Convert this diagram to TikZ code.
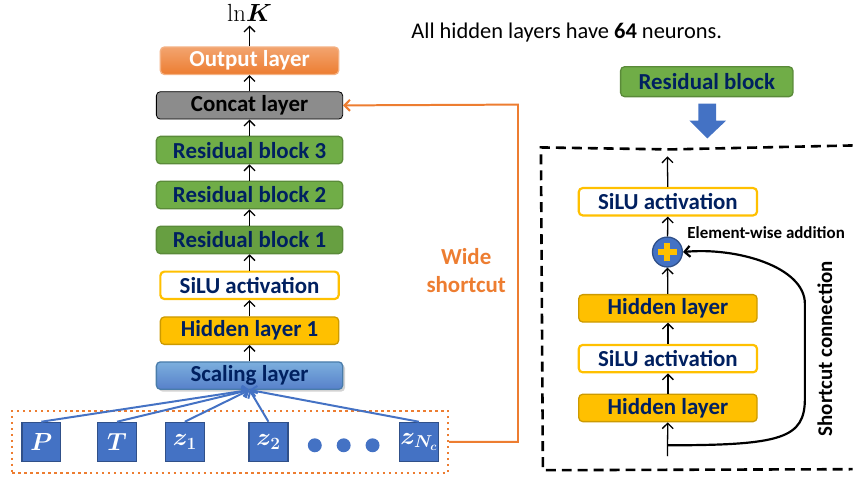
\documentclass[tikz,border=0pt]{standalone}
\usepackage{amsmath}
\usepackage[no-math]{fontspec}
\setmainfont{Carlito}
\usepackage{tikz}
\usetikzlibrary{arrows.meta, shapes, shadows, fit}

\definecolor{navy}{RGB}{0,32,96}
\definecolor{outorange}{RGB}{237,125,49}
\definecolor{leafgreen}{RGB}{112,173,71}
\definecolor{gold}{RGB}{255,192,0}
\definecolor{steel}{RGB}{68,114,196}
\definecolor{skyblue}{RGB}{91,155,213}
\definecolor{midgray}{RGB}{140,140,140}

\begin{document}
\begin{tikzpicture}[x=1pt, y=-1pt,
  layer/.style={rectangle, rounded corners=4pt, minimum width=187pt,
    minimum height=27.5pt, inner sep=0pt, text=navy,
    font=\fontsize{23}{26}\selectfont\bfseries},
  %
  outlayer/.style={layer, minimum width=179pt, draw=outorange!60,
    top color=outorange!70, bottom color=outorange, text=white},
  %
  concat/.style={layer, draw=black, thick, fill=midgray, text=black},
  %
  resblock/.style={layer, draw=leafgreen!80!black, fill=leafgreen},
  %
  silu/.style={layer, minimum width=179pt, draw=gold, line width=2.2pt,
    fill=white},
  %
  hidden/.style={layer, minimum width=179pt, draw=gold!80!black,
    fill=gold},
  %
  scaling/.style={layer, draw=skyblue!80!black, top color=skyblue!80,
    bottom color=steel!90, drop shadow={opacity=.35}},
  %
  feat/.style={rectangle, minimum size=39pt, inner sep=0pt, fill=steel,
    draw=steel!70!black, text=white, font=\fontsize{25}{27}\selectfont\boldmath},
  %
  dot/.style={circle, minimum size=14pt, inner sep=0pt, fill=steel},
  %
  note/.style={font=\fontsize{23}{28}\selectfont\bfseries, align=center}
  ]

  \tikzset{every path/.style={line width=1.3pt},
    >={Straight Barb[length=5.5pt, width=11pt]}}

  % the main network
  \begin{scope}
    \matrix [row sep=16.3pt, column sep=0pt] (stack) at (250.5,219) {
      %%%%%%%%%%%%%%%%%%%%%%%%%%%%%%%
      \node [outlayer] (output) {Output layer}; \\
      \node [concat] (concat) {Concat layer}; \\
      %%%%%%%%%%%%%%%%%%%%%%%%%%%%%%%
      \node [resblock] (rb3) {Residual block 3}; \\
      \node [resblock] (rb2) {Residual block 2}; \\
      \node [resblock, fill=leafgreen!92!black] (rb1) {Residual block 1}; \\
      %%%%%%%%%%%%%%%%%%%%%%%%%%%%%%%
      \node [silu] (act) {SiLU activation}; \\
      \node [hidden] (hid1) {Hidden layer 1}; \\
      \node [scaling] (scale) {Scaling layer}; \\
    };

    \node [font=\fontsize{25}{27}\selectfont] (lnk) at (250.5,13)
      {$\mathrm{ln}\boldsymbol{K}$};

    % inputs
    \node [feat] (P) at (41.5,443.5) {$P$};
    \node [feat] (T) at (117.5,443.5) {$T$};
    \node [feat] (z1) at (185.5,443.5) {$z_1$};
    \node [feat] (z2) at (269.5,443.5) {$z_2$};
    \node [dot] (d1) at (316,447) {};
    \node [dot] (d2) at (345,447) {};
    \node [dot] (d3) at (374,447) {};
    \node [feat] (zn) at (420.5,443.5) {$z_{N_c}$};
    \node [draw=outorange, dash pattern=on 2.5pt off 3.5pt, line width=2.2pt,
      fit=(P)(zn), inner xsep=9pt, inner ysep=11pt] (inputs) {};
  \end{scope}

  \begin{scope}
    \draw [->] (scale) -- (hid1);
    \draw [->] (hid1) -- (act);
    \draw [->] (act) -- (rb1);
    \draw [->] (rb1) -- (rb2);
    \draw [->] (rb2) -- (rb3);
    \draw [->] (rb3) -- (concat);
    \draw [->] (concat) -- (output);
    \draw [->] (output) -- (lnk);
    \foreach \f in {P, T, z1, z2, zn}
      \draw [->, steel, line width=2pt] (\f.north) -- (scale.south);
    \coordinate (turn) at (520,105);
    \draw [->, outorange, line width=2pt] (inputs.east) -| (turn) -- (concat.east);
    \node [note, text=outorange] (wide) at (468,272) {Wide\\shortcut};
  \end{scope}

  \node [anchor=west, font=\fontsize{22.5}{26}\selectfont] (neurons) at (409,33)
    {All hidden layers have \textbf{64} neurons.};

  % residual block in detail
  \begin{scope}
    \node [resblock, minimum width=173pt, minimum height=30pt] (rb) at (709.5,82)
      {Residual block};
    \fill [steel] (701,104) -- (719,104) -- (719,121) -- (729,121) -- (710,139)
      -- (692,121) -- (701,121) -- cycle;
    \draw [line width=2.6pt, dash pattern=on 10pt off 6pt]
      (856,146) -- (672,150) -- (543,148) -- (545,472) -- (856,471);

    \node [silu] (act2) at (670.5,202.5) {SiLU activation};
    \node [circle, minimum size=30pt, inner sep=0pt, fill=steel,
      draw=steel!70!black] (plus) at (670,253) {};
    \draw [gold, line width=6pt] ([xshift=-9.5pt]plus.center) -- ([xshift=9.5pt]plus.center);
    \draw [gold, line width=6pt] ([yshift=-9.5pt]plus.center) -- ([yshift=9.5pt]plus.center);
    \node [hidden] (hid2) at (670.5,309.5) {Hidden layer};
    \node [silu] (act3) at (670.5,360) {SiLU activation};
    \node [hidden] (hid3) at (670.5,409.5) {Hidden layer};

    \coordinate (top) at (670,157);
    \coordinate (bottom) at (670,458);
    \coordinate (split) at (670,447);
    \draw [->] (bottom) -- (hid3);
    \draw [->] (hid3) -- (act3);
    \draw [->] (act3) -- (hid2);
    \draw [->] (hid2) -- (plus);
    \draw [->] (plus) -- (act2);
    \draw [->] (act2) -- (top);
    \draw [->, line width=2.2pt] (split) .. controls (785,447) and (808,440) .. (808,400)
      -- (808,305) .. controls (808,268) and (740,248) .. (plus.east);

    \node [anchor=west, font=\fontsize{17}{20}\selectfont\bfseries] (ewa)
      at (686,233) {Element-wise addition};
    \node [rotate=90, font=\fontsize{21}{24}\selectfont\bfseries] (sc)
      at (828,350) {Shortcut connection};
  \end{scope}

  \useasboundingbox (0,0) rectangle (854,483);
\end{tikzpicture}
\end{document}
